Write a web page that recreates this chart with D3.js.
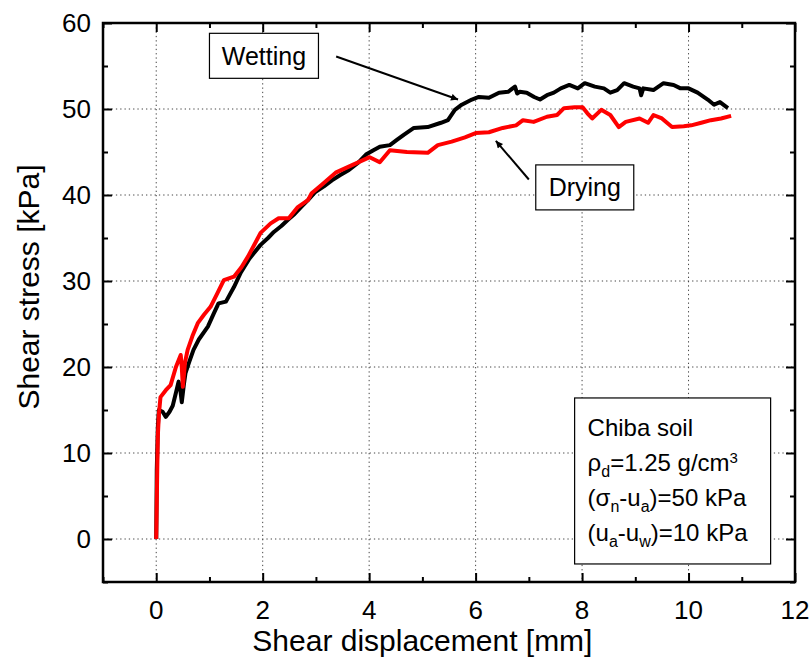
<!DOCTYPE html>
<html>
<head>
<meta charset="utf-8">
<script src="https://cdn.jsdelivr.net/npm/d3@7"></script>
<style>
body{margin:0;background:#fff;}
svg text{font-family:"Liberation Sans",Arial,sans-serif;fill:#000;}
</style>
</head>
<body>
<svg id="chart" width="811" height="666"></svg>
<script>
// wetting curve (black)
var wetX = [0,0.01,0.03,0.05,0.12,0.18,0.25,0.31,0.37,0.42,0.45,0.48,0.52,0.55,0.62,0.70,0.80,0.97,1.08,1.17,1.31,1.46,1.59,1.75,1.96,2.10,2.21,2.35,2.47,2.60,2.72,2.85,2.98,3.15,3.30,3.45,3.62,3.80,3.94,4.08,4.20,4.39,4.52,4.65,4.84,5.10,5.35,5.48,5.61,5.74,5.93,6.06,6.25,6.44,6.61,6.74,6.78,6.83,6.96,7.10,7.21,7.34,7.47,7.60,7.76,7.92,8.05,8.24,8.41,8.53,8.66,8.79,8.96,9.08,9.11,9.15,9.34,9.53,9.72,9.85,10.00,10.17,10.36,10.48,10.59,10.74];
var wetY = [0,8,13,15,14.8,14.2,14.8,15.5,17,18.3,17.5,15.9,18,19.3,20.6,22,23.2,24.7,26.2,27.4,27.6,29.3,31,32.6,34.2,35.0,35.7,36.4,37.1,37.8,38.6,39.4,40.3,41.0,41.7,42.3,42.9,43.8,44.7,45.2,45.6,45.8,46.4,47,47.8,47.9,48.4,48.7,49.9,50.5,51.1,51.4,51.3,51.9,52,52.6,51.8,52,51.9,51.4,51.1,51.6,51.9,52.4,52.8,52.4,53,52.6,52.4,51.9,52.2,53,52.6,52.4,51.6,52.4,52.2,53,52.8,52.4,52.4,51.9,51.1,50.5,50.8,50.1];

// drying curve (red)
var dryX = [0,0.02,0.03,0.05,0.08,0.18,0.27,0.37,0.46,0.48,0.50,0.54,0.59,0.68,0.78,0.90,1.02,1.15,1.27,1.46,1.60,1.72,1.85,1.96,2.15,2.30,2.49,2.66,2.85,2.92,3.11,3.37,3.69,4.01,4.20,4.39,4.71,5.10,5.29,5.55,5.80,6.00,6.25,6.51,6.76,6.89,7.09,7.34,7.53,7.66,7.86,8.01,8.10,8.19,8.36,8.53,8.69,8.82,9.08,9.24,9.34,9.50,9.69,9.91,10.05,10.24,10.42,10.61,10.80];
var dryY = [0,8.4,12,14.5,16.5,17.3,17.9,20,21.4,20,17.7,20.5,22,23.6,25.1,26.1,27,28.6,30.1,30.5,31.6,32.8,34.3,35.6,36.7,37.3,37.3,38.6,39.4,40.2,41.2,42.6,43.5,44.4,43.8,45.2,45,44.9,45.8,46.2,46.7,47.2,47.3,47.8,48.1,48.7,48.5,49.1,49.3,50.1,50.2,50.2,49.5,48.9,49.9,49.3,47.9,48.5,48.9,48.4,49.3,48.9,47.9,48.0,48.1,48.4,48.7,48.9,49.2];

var xTicks = [0,2,4,6,8,10,12];
var yTicks = [0,10,20,30,40,50,60];
var xMinor = [-1,1,3,5,7,9,11];
var yMinor = [-5,5,15,25,35,45,55];

var svg = d3.select("#chart");
var margin = {top: 23, right: 16, bottom: 84, left: 103},
	width = 811 - margin.left - margin.right,
	height = 666 - margin.top - margin.bottom;

var x = d3.scaleLinear().domain([-1, 12]).range([0, width]);
var y = d3.scaleLinear().domain([-5, 60]).range([height, 0]);

var g = svg.append("g").attr("transform", "translate(" + margin.left + "," + margin.top + ")");

//grid
g.append("g").selectAll("line").data(xTicks.filter(function(d){return d < 12;}))
	.enter().append("line")
	.attr("x1", function(d){return x(d);}).attr("x2", function(d){return x(d);})
	.attr("y1", 0).attr("y2", height)
	.attr("stroke", "#444").attr("stroke-width", 1).attr("stroke-dasharray", "1.3,3");
g.append("g").selectAll("line").data(yTicks.filter(function(d){return d < 60;}))
	.enter().append("line")
	.attr("y1", function(d){return y(d);}).attr("y2", function(d){return y(d);})
	.attr("x1", 0).attr("x2", width)
	.attr("stroke", "#444").attr("stroke-width", 1).attr("stroke-dasharray", "1.3,3");

//axes, ticks pointing inward on all four sides
function axisTicks(axis, vals, size){
	return axis.tickValues(vals).tickSizeInner(-size).tickSizeOuter(0).tickFormat("");
}
var axes = [
	[d3.axisBottom, "translate(0," + height + ")", x, xTicks, xMinor],
	[d3.axisTop, "translate(0,0)", x, xTicks, xMinor],
	[d3.axisLeft, "translate(0,0)", y, yTicks, yMinor],
	[d3.axisRight, "translate(" + width + ",0)", y, yTicks, yMinor]
];
axes.forEach(function(a){
	var maj = g.append("g").attr("transform", a[1]).call(axisTicks(a[0](a[2]), a[3], 9));
	var min = g.append("g").attr("transform", a[1]).call(axisTicks(a[0](a[2]), a[4], 5));
	[maj, min].forEach(function(s){
		s.select(".domain").remove();
		s.selectAll("line").attr("stroke", "#000").attr("stroke-width", 2);
	});
});

g.append("rect").attr("x", 0).attr("y", 0).attr("width", width).attr("height", height)
	.attr("fill", "none").attr("stroke", "#000").attr("stroke-width", 2.5);

//tick labels
g.append("g").selectAll("text").data(xTicks).enter().append("text")
	.attr("x", function(d){return x(d);}).attr("y", height + 37)
	.attr("text-anchor", "middle").style("font-size", "26px")
	.text(function(d){return d;});
g.append("g").selectAll("text").data(yTicks).enter().append("text")
	.attr("x", -12).attr("y", function(d){return y(d) + 9;})
	.attr("text-anchor", "end").style("font-size", "26px")
	.text(function(d){return d;});

//axis titles
g.append("text").attr("x", x(5.0)).attr("y", height + 69)
	.attr("text-anchor", "middle").style("font-size", "30px")
	.text("Shear displacement [mm]");
g.append("text").attr("transform", "translate(" + (-64) + "," + y(29.3) + ") rotate(-90)")
	.attr("text-anchor", "middle").style("font-size", "30px")
	.text("Shear stress [kPa]");

//curves
var line = d3.line().x(function(d){return x(d[0]);}).y(function(d){return y(d[1]);});
var wet = d3.zip(wetX, wetY), dry = d3.zip(dryX, dryY);
g.append("path").datum(wet).attr("d", line).attr("fill", "none")
	.attr("stroke", "#000").attr("stroke-width", 4).attr("stroke-linejoin", "round");
g.append("path").datum(dry).attr("d", line).attr("fill", "none")
	.attr("stroke", "#ff0000").attr("stroke-width", 4).attr("stroke-linejoin", "round");

//annotations
svg.append("defs").append("marker").attr("id", "arr")
	.attr("viewBox", "0 0 10 10").attr("refX", 10).attr("refY", 5)
	.attr("markerWidth", 9).attr("markerHeight", 7).attr("markerUnits", "userSpaceOnUse")
	.attr("orient", "auto")
	.append("path").attr("d", "M0,0L10,5L0,10z").attr("fill", "#000");

function labelBox(txt, bx, by, bw, bh){
	g.append("rect").attr("x", x(bx)).attr("y", y(by)).attr("width", bw).attr("height", bh)
		.attr("fill", "#fff").attr("stroke", "#000").attr("stroke-width", 1.2);
	g.append("text").attr("x", x(bx) + bw/2).attr("y", y(by) + bh/2 + 9)
		.attr("text-anchor", "middle").style("font-size", "25px").text(txt);
}
g.append("line").attr("x1", x(3.38)).attr("y1", y(56.1)).attr("x2", x(5.67)).attr("y2", y(51.1))
	.attr("stroke", "#000").attr("stroke-width", 2).attr("marker-end", "url(#arr)");
g.append("line").attr("x1", x(7.0)).attr("y1", y(41.8)).attr("x2", x(6.38)).attr("y2", y(46.3))
	.attr("stroke", "#000").attr("stroke-width", 2).attr("marker-end", "url(#arr)");
labelBox("Wetting", 1.0, 58.8, 109, 45);
labelBox("Drying", 7.13, 43.5, 98, 45);

//info box
var box = g.append("g");
box.append("rect").attr("x", x(7.86)).attr("y", y(16.4)).attr("width", 196).attr("height", 166)
	.attr("fill", "#fff").attr("stroke", "#000").attr("stroke-width", 1.2);
var lines = [
	[["Chiba soil", 0]],
	[["ρ", 0], ["d", 1], ["=1.25 g/cm", 0], ["3", -1]],
	[["(σ", 0], ["n", 1], ["-u", 0], ["a", 1], [")=50 kPa", 0]],
	[["(u", 0], ["a", 1], ["-u", 0], ["w", 1], [")=10 kPa", 0]]
];
lines.forEach(function(parts, i){
	var t = box.append("text").attr("x", x(7.86) + 13).attr("y", y(16.4) + 38 + i*35)
		.style("font-size", "24px");
	parts.forEach(function(p){
		var s = t.append("tspan").text(p[0]);
		if(p[1] == 1) s.attr("baseline-shift", "-40%").style("font-size", "16px");
		if(p[1] == -1) s.attr("baseline-shift", "55%").style("font-size", "15px");
	});
});
</script>
</body>
</html>
